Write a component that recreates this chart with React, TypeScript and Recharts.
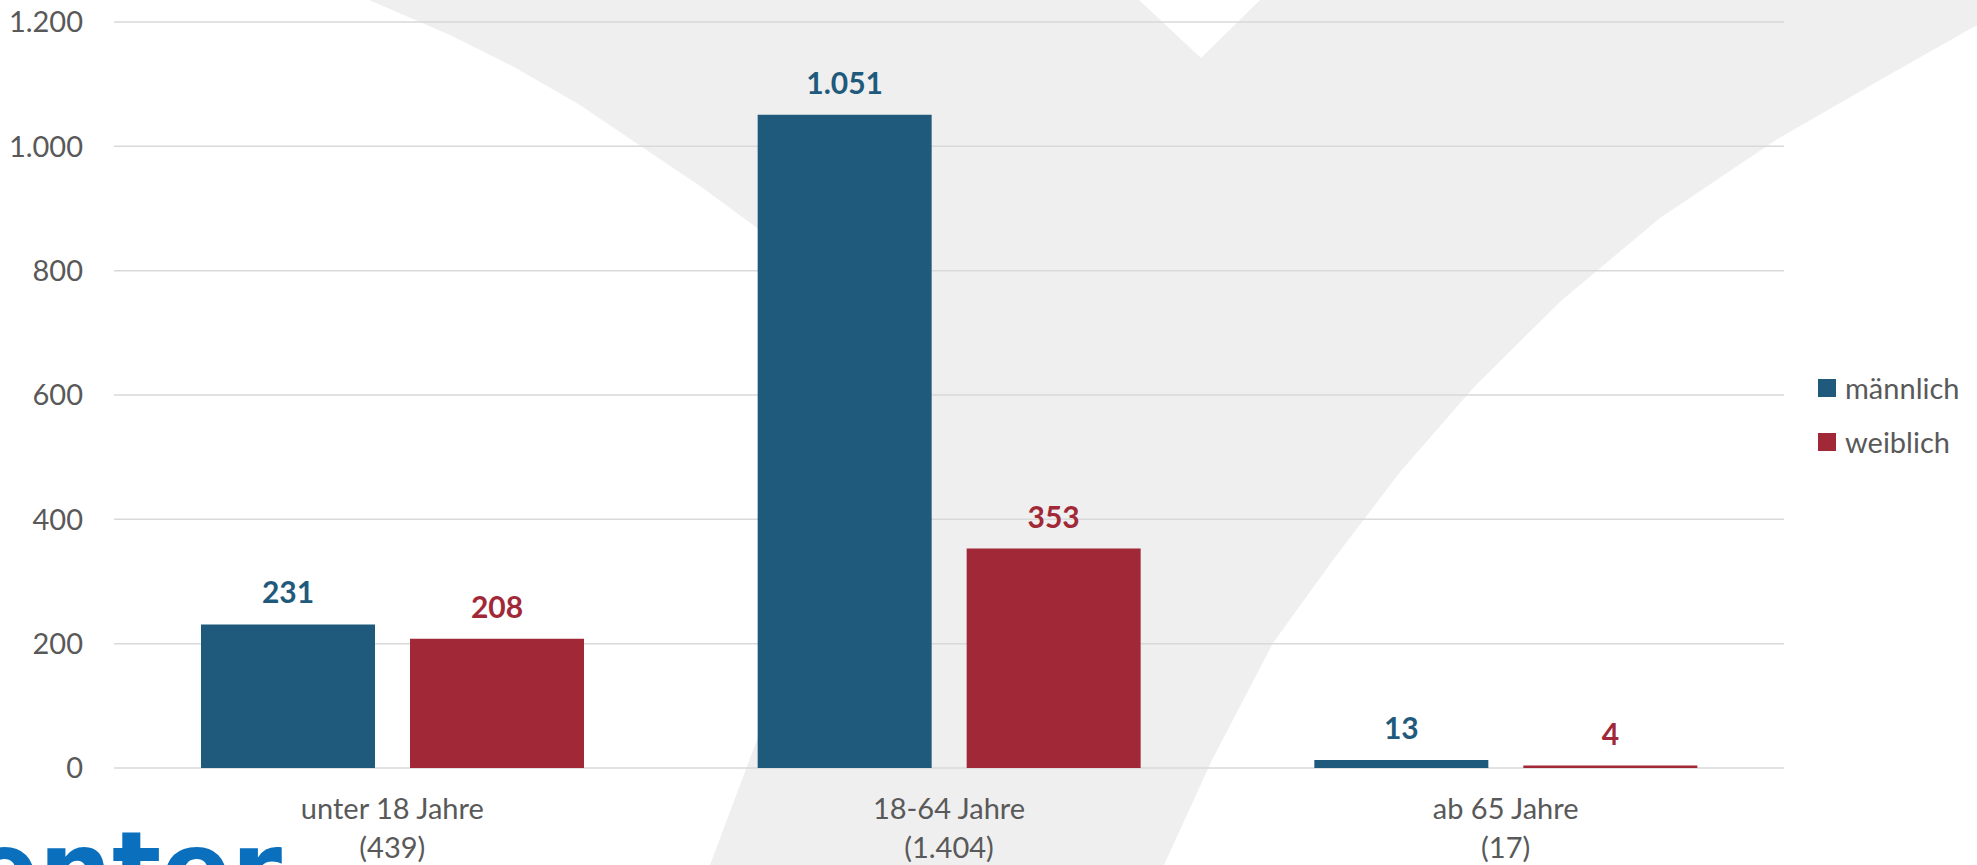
import React from 'react';
import { BarChart, Bar, XAxis, YAxis, CartesianGrid, Legend, LabelList } from 'recharts';

const categories = ['unter 18 Jahre', '18-64 Jahre', 'ab 65 Jahre'];
const totals = ['(439)', '(1.404)', '(17)'];
const maleValues = [231, 1051, 13];
const femaleValues = [208, 353, 4];
const yTicks = [0, 200, 400, 600, 800, 1000, 1200];
const seriesNames = ['männlich', 'weiblich'];

const BLUE = '#1F5A7D';
const RED = '#A12937';
const TEXT = '#595959';
const FONT = "Lato, 'Open Sans', sans-serif";

const data = categories.map((c, i) => ({
  name: c,
  total: totals[i],
  m: maleValues[i],
  w: femaleValues[i],
}));

const fmt = (v: number | string) =>
  String(v).replace(/\B(?=(\d{3})+(?!\d))/g, '.');

const XTick = (props: any) => {
  const { x, y, payload, index } = props;
  return (
    <text x={x} y={y} textAnchor="middle" fill={TEXT} fontSize={29} fontFamily={FONT}>
      <tspan x={x} dy={51}>{payload.value}</tspan>
      <tspan x={x} dy={39}>{totals[index]}</tspan>
    </text>
  );
};

const LegendContent = (props: any) => {
  const { payload } = props;
  return (
    <div style={{ fontFamily: FONT, fontSize: 29, color: TEXT }}>
      {(payload || []).map((p: any, i: number) => (
        <div
          key={i}
          style={{ display: 'flex', alignItems: 'center', height: 54, lineHeight: '54px' }}
        >
          <span
            style={{ display: 'inline-block', width: 18, height: 18, background: p.color, marginRight: 9 }}
          />
          <span>{p.value}</span>
        </div>
      ))}
    </div>
  );
};

const Watermark = () => (
  <svg
    width={1977}
    height={865}
    style={{ position: 'absolute', left: 0, top: 0 }}
  >
    <path
      d="M369,0 L450,35 L514,67 L580,105 L642,147 L700,186 L760,230 L815,295 L855,370 L872,440 L758,737 L710,865 L1164,865 L1212,760 L1273,643 L1333,560 L1400,472 L1475,386 L1562,300 L1660,218 L1776,140 L1880,80 L1977,25 L1977,0 L1260,0 L1201,58 L1139,0 Z"
      fill="#EFEFEF"
    />
    <text
      x={282}
      y={905}
      textAnchor="end"
      fontFamily="'DejaVu Sans', sans-serif"
      fontWeight="bold"
      fontSize={103}
      fill="#0A70BE"
    >
      enter
    </text>
  </svg>
);

export default function App() {
  return (
    <div
      style={{
        position: 'absolute',
        left: 0,
        top: 0,
        width: 1977,
        height: 865,
        overflow: 'hidden',
        background: '#FFFFFF',
      }}
    >
      <Watermark />
      <div style={{ position: 'absolute', left: 0, top: 0 }}>
        <BarChart
          width={1977}
          height={865}
          data={data}
          margin={{ top: 22, right: 193, left: 0, bottom: 0 }}
          barCategoryGap={87}
          barGap={35}
        >
          <CartesianGrid vertical={false} stroke="#D9D9D9" strokeWidth={1.5} />
          <XAxis
            dataKey="name"
            height={97}
            axisLine={false}
            tickLine={false}
            tickSize={0}
            tickMargin={0}
            interval={0}
            tick={<XTick />}
          />
          <YAxis
            width={114}
            domain={[0, 1200]}
            ticks={yTicks}
            axisLine={false}
            tickLine={false}
            tickSize={0}
            tickMargin={31}
            tickFormatter={fmt}
            tick={{ fill: TEXT, fontSize: 29, fontFamily: FONT }}
          />
          <Legend
            layout="vertical"
            align="center"
            verticalAlign="middle"
            content={<LegendContent />}
            wrapperStyle={{ position: 'absolute', left: 1818, top: 361, width: 159, height: 108 }}
          />
          <Bar dataKey="m" name={seriesNames[0]} fill={BLUE} isAnimationActive={false}>
            <LabelList
              dataKey="m"
              position="top"
              offset={21}
              fill={BLUE}
              fontSize={30}
              fontWeight="bold"
              fontFamily={FONT}
              formatter={fmt}
            />
          </Bar>
          <Bar dataKey="w" name={seriesNames[1]} fill={RED} isAnimationActive={false}>
            <LabelList
              dataKey="w"
              position="top"
              offset={21}
              fill={RED}
              fontSize={30}
              fontWeight="bold"
              fontFamily={FONT}
              formatter={fmt}
            />
          </Bar>
        </BarChart>
      </div>
    </div>
  );
}
